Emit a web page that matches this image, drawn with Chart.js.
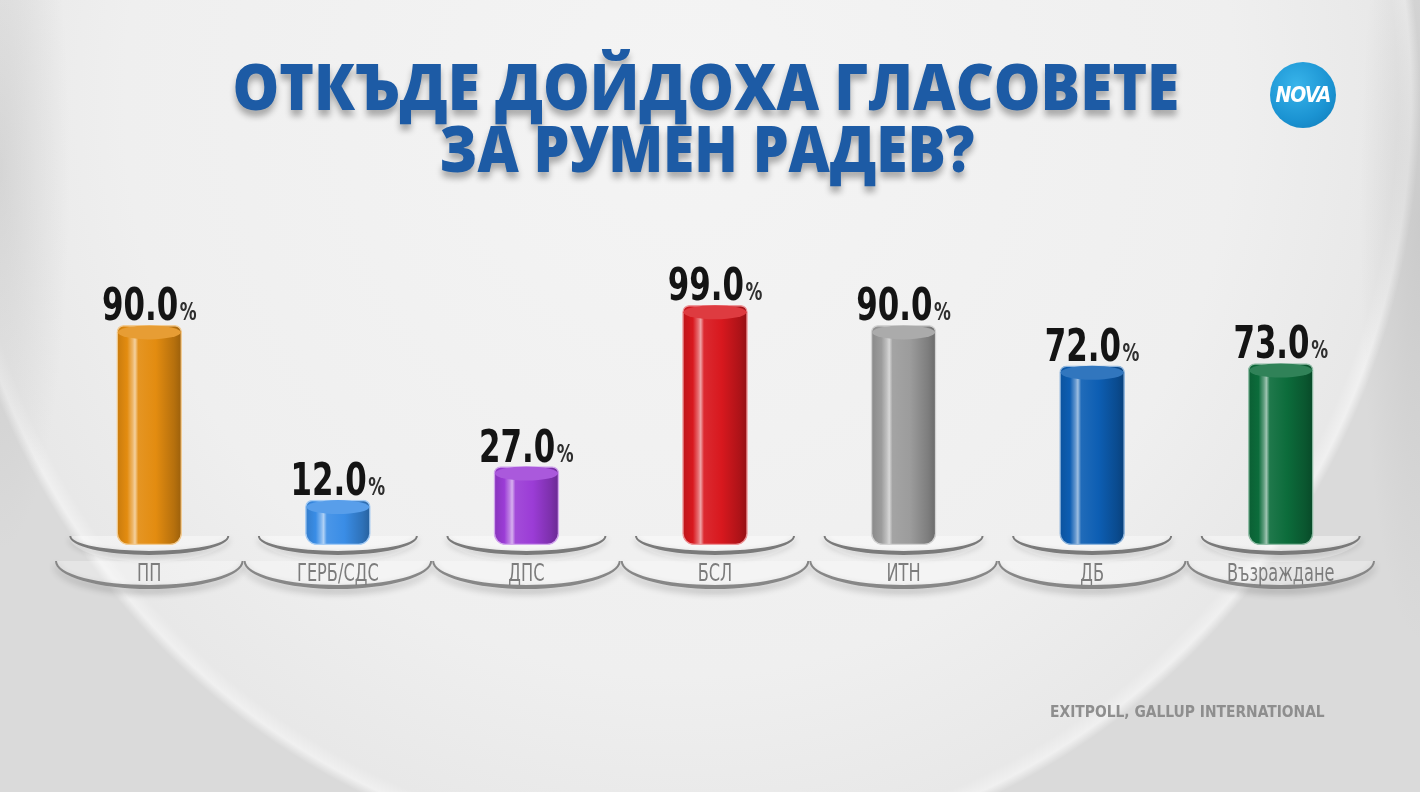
<!DOCTYPE html>
<html>
<head>
<meta charset="utf-8">
<script src="https://cdn.jsdelivr.net/npm/chart.js@4.4.1/dist/chart.umd.min.js"></script>
<style>
  html, body { margin:0; padding:0; }
  body {
    width:1420px; height:792px; overflow:hidden; position:relative;
    background:
      radial-gradient(70px 380px at 0px 170px, rgba(175,175,175,0.35), rgba(200,200,200,0)),
      radial-gradient(60px 420px at 1420px 220px, rgba(175,175,175,0.35), rgba(200,200,200,0)),
      radial-gradient(740px 768px at 680px 100px, #f4f4f4 0%, #efefef 75%, #e8e8e8 97%, #f0f0f0 98.8%, #dadada 100%),
      #d9d9d9;
    font-family: "Liberation Sans Narrow", "DejaVu Sans Condensed", sans-serif;
  }
  #chart { position:absolute; left:0; top:0; }
  .tline {
    position:absolute; white-space:nowrap;
    font-family:"Open Sans", "DejaVu Sans", sans-serif; font-weight:800;
    font-size:64px; line-height:64px; color:#1d5ba5;
    text-shadow: 0 6px 7px rgba(0,0,0,0.30);
    transform-origin: 50% 50%;
  }
  #logo {
    position:absolute; left:1270px; top:62px; width:66px; height:66px; border-radius:50%;
    background: radial-gradient(circle at 40% 35%, #38b4ea 0%, #1b93d2 60%, #0f78b5 100%);
    color:#fff; font: italic bold 21px "Liberation Sans Narrow", "DejaVu Sans Condensed", sans-serif;
    display:flex; align-items:center; justify-content:center; letter-spacing:-1px;
  }
  #source {
    position:absolute; top:703px; left:1050px; white-space:nowrap;
    font-size:15px; font-weight:bold; color:#8e8e8e; transform-origin:0 50%;
  }
</style>
</head>
<body>
<canvas id="chart" width="1420" height="792"></canvas>
<div class="tline" id="t1">ОТКЪДЕ ДОЙДОХА ГЛАСОВЕТЕ</div>
<div class="tline" id="t2">ЗА РУМЕН РАДЕВ?</div>
<div id="logo">NOVA</div>
<div id="source">EXITPOLL, GALLUP INTERNATIONAL</div>
<script>
const categories = ['ПП', 'ГЕРБ/СДС', 'ДПС', 'БСЛ', 'ИТН', 'ДБ', 'Възраждане'];
const values = [90.0, 12.0, 27.0, 99.0, 90.0, 72.0, 73.0];
const barColors = ['#e38c10', '#3a8de6', '#9b3cd6', '#d8181e', '#9c9c9c', '#0d5eb3', '#0c6c3b'];
const valueSuffix = '%';

function fitLine(id, centerX, baseline, targetW) {
  const el = document.getElementById(id);
  const w = el.offsetWidth;
  el.style.left = (centerX - w / 2) + 'px';
  el.style.top = (baseline - 57) + 'px';
  el.style.transform = 'scaleX(' + (targetW / w) + ')';
}
fitLine('t1', 706, 111, 947);
fitLine('t2', 707, 173, 535);
(function(){
  const s = document.getElementById('source');
  s.style.transform = 'scaleX(' + (275 / s.offsetWidth) + ')';
})();

function hexToRgb(h){ h=h.replace('#',''); return [0,2,4].map(i=>parseInt(h.substr(i,2),16)); }
function mix(hex, target, t){
  const a = hexToRgb(hex), b = target === 'w' ? [255,255,255] : [0,0,0];
  const c = a.map((v,i)=>Math.round(v + (b[i]-v)*t));
  return 'rgb(' + c.join(',') + ')';
}

const BAR_W = 65;
const NARROW = 0.78;

function barFill(ctx) {
  const chart = ctx.chart;
  const i = ctx.dataIndex;
  const base = barColors[i];
  if (!chart.chartArea || !chart.scales.x) return base;
  const cx = chart.scales.x.getPixelForValue(i);
  const g = chart.ctx.createLinearGradient(cx - BAR_W/2, 0, cx + BAR_W/2, 0);
  g.addColorStop(0, mix(base,'k',0.12));
  g.addColorStop(0.16, base);
  g.addColorStop(0.24, mix(base,'w',0.35));
  g.addColorStop(0.28, mix(base,'w',0.6));
  g.addColorStop(0.33, mix(base,'w',0.08));
  g.addColorStop(0.6, base);
  g.addColorStop(0.88, mix(base,'k',0.2));
  g.addColorStop(1, mix(base,'k',0.32));
  return g;
}

const platformPlugin = {
  id: 'platform',
  beforeDatasetsDraw(chart) {
    const c = chart.ctx, xs = chart.scales.x;
    const half = (xs.getPixelForValue(1) - xs.getPixelForValue(0)) / 2;
    c.save();
    categories.forEach((lab, i) => {
      const cx = xs.getPixelForValue(i);
      // lower dish
      c.save();
      c.beginPath();
      c.ellipse(cx, 561, half, 28, 0, 0, Math.PI);
      c.closePath();
      c.fillStyle = 'rgba(255,255,255,0.3)'; c.fill();
      c.shadowColor = 'rgba(0,0,0,0.3)'; c.shadowBlur = 7; c.shadowOffsetY = 4;
      c.beginPath();
      c.ellipse(cx, 561, half, 28, 0, 0, Math.PI);
      c.ellipse(cx, 561, half - 2, 24, 0, Math.PI, 0, true);
      c.closePath();
      c.fillStyle = '#878787'; c.fill();
      c.restore();
      // upper dish
      c.save();
      c.beginPath();
      c.ellipse(cx, 536, 80, 26, 0, 0, Math.PI);
      c.closePath();
      c.fillStyle = 'rgba(255,255,255,0.4)'; c.fill();
      c.shadowColor = 'rgba(0,0,0,0.28)'; c.shadowBlur = 6; c.shadowOffsetY = 3;
      c.beginPath();
      c.ellipse(cx, 536, 80, 19, 0, 0, Math.PI);
      c.ellipse(cx, 536, 78, 15, 0, Math.PI, 0, true);
      c.closePath();
      c.fillStyle = '#7a7a7a'; c.fill();
      c.restore();
      // category label
      c.save();
      c.translate(cx, 574);
      c.scale(0.72, 1);
      c.font = '25px "Liberation Sans Narrow", "DejaVu Sans Condensed", sans-serif';
      c.fillStyle = '#7c7c7c';
      c.textAlign = 'center'; c.textBaseline = 'middle';
      c.fillText(lab, 0, 0);
      c.restore();
    });
    c.restore();
  }
};

const capPlugin = {
  id: 'caps',
  afterDatasetsDraw(chart) {
    const c = chart.ctx;
    const meta = chart.getDatasetMeta(0);
    const F1 = 'bold 44px "Liberation Sans Narrow", "DejaVu Sans Condensed", sans-serif';
    const F2 = 'bold 30px "Liberation Sans Narrow", "DejaVu Sans Condensed", sans-serif';
    meta.data.forEach((bar, i) => {
      const base = barColors[i];
      const w = bar.width;
      c.save();
      c.beginPath();
      c.ellipse(bar.x, bar.y + 7, w/2 - 1, 7, 0, 0, Math.PI*2);
      c.fillStyle = mix(base,'w',0.15); c.fill();
      c.restore();
      c.save();
      const num = values[i].toFixed(1);
      c.font = F1;
      const w1 = c.measureText(num).width;
      c.font = F2;
      const w2 = c.measureText(valueSuffix).width * 0.8;
      const total = w1 + 2 + w2;
      c.translate(bar.x, bar.y - 5);
      c.scale(NARROW, 1);
      const x0 = -total / 2;
      c.textBaseline = 'alphabetic'; c.textAlign = 'left';
      c.fillStyle = '#141414';
      c.font = F1;
      c.fillText(num, x0, 0);
      c.save();
      c.translate(x0 + w1 + 2, 0);
      c.scale(0.8, 0.8);
      c.fillStyle = '#2e2e2e';
      c.font = F2;
      c.fillText(valueSuffix, 0, 0);
      c.restore();
      c.restore();
    });
  }
};

new Chart(document.getElementById('chart'), {
  type: 'bar',
  data: {
    labels: categories,
    datasets: [{
      data: values,
      base: -8,
      backgroundColor: barFill,
      borderColor: barColors.map(col => mix(col, 'w', 0.55)),
      borderWidth: 1.5,
      borderSkipped: false,
      borderRadius: { topLeft: 7, topRight: 7, bottomLeft: 12, bottomRight: 12 },
      barThickness: BAR_W
    }]
  },
  options: {
    responsive: false,
    animation: false,
    devicePixelRatio: 1,
    layout: { padding: { left: 55, right: 45, top: 280.6, bottom: 247.1 } },
    plugins: { legend: { display: false }, tooltip: { enabled: false }, title: { display: false } },
    scales: {
      x: { display: false },
      y: { display: false, min: -8, max: 110 }
    }
  },
  plugins: [platformPlugin, capPlugin]
});
</script>
</body>
</html>
